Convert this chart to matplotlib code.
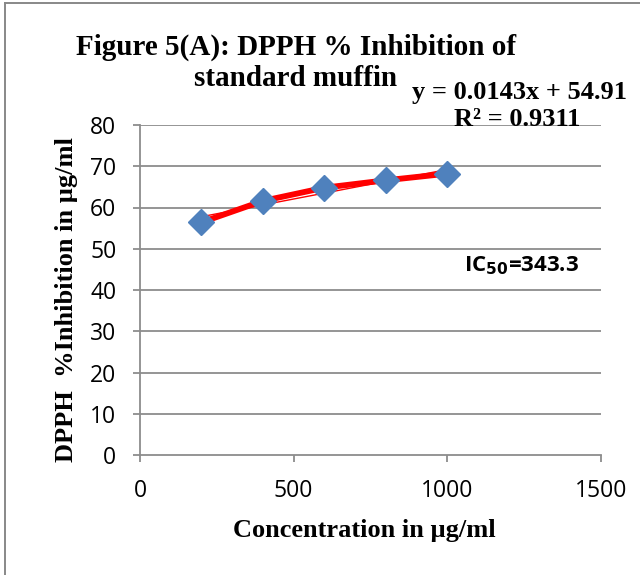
import matplotlib
matplotlib.use("Agg")
import matplotlib.pyplot as plt
import numpy as np
from matplotlib.lines import Line2D

conc = [200, 400, 600, 800, 1000]
inhibition = [56.4, 61.6, 64.8, 66.6, 68.2]
x_ticks = [0, 500, 1000, 1500]
y_ticks = [0, 10, 20, 30, 40, 50, 60, 70, 80]
slope, intercept = 0.0143, 54.91

W, H = 640, 575
fig = plt.figure(figsize=(6.4, 5.75), dpi=100)
border = '#888888'
fig.lines.append(Line2D([5/W, 1], [1-3/H, 1-3/H], transform=fig.transFigure, color=border, lw=1.4))
fig.lines.append(Line2D([5/W, 5/W], [0, 1-3/H], transform=fig.transFigure, color=border, lw=1.4))
ax = fig.add_axes([140/W, 1-455/H, 461/W, 330/H])

gray = '#8c8c8c'
ax.set_xlim(0, 1500)
ax.set_ylim(0, 80)
ax.set_xticks(x_ticks)
ax.set_yticks(y_ticks)
for y in y_ticks[1:]:
    ax.axhline(y, color=gray, lw=1.3, zorder=0)
for s in ['top', 'right']:
    ax.spines[s].set_visible(False)
for s in ['left', 'bottom']:
    ax.spines[s].set_color(gray)
    ax.spines[s].set_linewidth(1.3)
ax.tick_params(axis='both', colors=gray, length=5, width=1.3, labelcolor='black',
               labelsize=16.5)
ax.tick_params(axis='x', pad=12)
ax.tick_params(axis='y', pad=12)
for lab in ax.get_xticklabels() + ax.get_yticklabels():
    lab.set_family('Open Sans')

# thick series line
ax.plot(conc, inhibition, color='red', lw=4.2, solid_capstyle='round', zorder=2)
# linear trendline
xt = np.array([conc[0], conc[-1]])
ax.plot(xt, slope*xt + intercept, color='red', lw=1.0, zorder=3)
ax.plot(conc, inhibition, ls='none', marker='D', markersize=13,
        color='#4F81BD', markeredgecolor='#4F81BD', zorder=4, clip_on=False)

serif = 'Liberation Serif'
fig.text(296/W, 1-47/H, 'Figure 5(A): DPPH % Inhibition of', ha='center', va='center',
         family=serif, weight='bold', fontsize=21)
fig.text(296/W, 1-78/H, 'standard muffin', ha='center', va='center',
         family=serif, weight='bold', fontsize=21)
fig.text(520/W, 1-93/H, 'y = 0.0143x + 54.91', ha='center', va='center',
         family=serif, weight='bold', fontsize=19)
fig.text(517/W, 1-119/H, 'R² = 0.9311', ha='center', va='center',
         family=serif, weight='bold', fontsize=19)
fig.text(522/W, 1-266/H, r'IC$_{\mathbf{50}}$=343.3', ha='center', va='center',
         family='Open Sans', weight='bold', fontsize=16)
fig.text(67/W, 1-300/H, 'DPPH  %Inhibition in µg/ml', ha='center', va='center',
         rotation=90, family=serif, weight='bold', fontsize=19)
fig.text(364/W, 1-530/H, 'Concentration in µg/ml', ha='center', va='center',
         family=serif, weight='bold', fontsize=19)

fig.savefig('out.png', dpi=100)
